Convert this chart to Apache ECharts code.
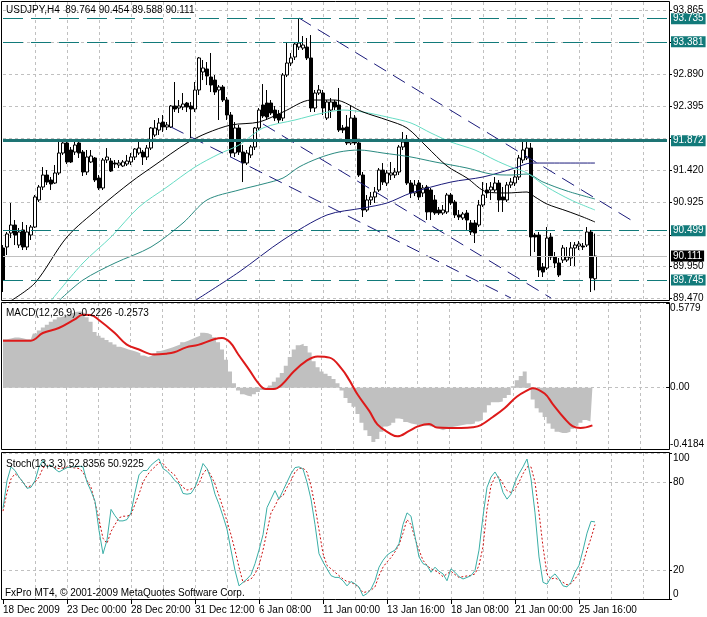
<!DOCTYPE html>
<html><head><meta charset="utf-8">
<script src="https://cdn.jsdelivr.net/npm/echarts@6/dist/echarts.min.js"></script>
<style>html,body{margin:0;padding:0;background:#fff}#c{width:707px;height:617px}</style>
</head><body><div id="c"></div>
<script>
// ---------------- DATA ----------------
const symbolName = 'USDJPY,H4';
const dateLabels = ['18 Dec 2009','23 Dec 00:00','28 Dec 20:00','31 Dec 12:00','6 Jan 08:00','11 Jan 00:00','13 Jan 16:00','18 Jan 08:00','21 Jan 00:00','25 Jan 16:00'];

const open = [90.234,90.249,90.463,90.585,90.279,90.509,90.249,90.432,90.554,90.967,
91.165,91.348,91.272,91.226,91.379,91.684,91.837,91.730,91.699,91.837,
91.699,91.394,91.547,91.608,91.302,91.150,91.577,91.562,91.531,91.501,
91.486,91.516,91.547,91.623,91.684,91.699,91.623,91.760,91.959,92.035,
92.157,92.081,92.081,92.402,92.371,92.386,92.447,92.402,92.356,92.646,
92.921,92.967,92.844,92.798,92.646,92.692,92.493,92.264,91.684,92.066,
91.699,91.531,91.654,91.776,92.066,92.417,92.447,92.447,92.340,92.279,
92.218,92.875,93.058,93.150,93.302,93.287,93.302,93.135,92.371,92.600,
92.600,92.218,92.340,92.463,92.417,92.066,92.081,91.837,92.218,91.837,
91.348,90.814,90.967,91.013,91.119,91.424,91.226,91.348,91.348,91.394,
91.776,91.852,91.226,91.074,91.226,91.074,91.165,91.119,90.967,90.814,
90.768,90.784,91.043,90.936,90.738,90.692,90.768,90.616,90.616,90.585,
90.890,91.119,91.119,91.119,91.226,91.013,90.967,91.196,91.226,91.318,
91.577,91.608,91.760,90.432,90.432,89.944,89.928,90.402,90.096,90.005,
90.050,90.050,90.081,90.234,90.264,90.264,90.279,90.478,89.764];
const high = [90.279,90.478,90.921,90.661,90.539,90.631,90.585,90.585,91.043,91.196,
91.470,91.424,91.318,91.501,91.852,91.882,91.882,91.776,91.852,91.882,
91.730,91.730,91.730,91.623,91.348,91.608,91.760,91.608,91.577,91.577,
91.577,91.654,91.684,91.760,91.882,91.730,91.806,92.081,92.188,92.218,
92.264,92.157,92.417,92.768,92.493,92.600,92.463,92.463,92.768,93.150,
93.104,93.073,93.211,92.875,92.722,92.722,92.539,92.310,92.157,92.112,
91.806,91.730,91.806,92.081,92.371,92.737,92.646,92.493,92.402,92.340,
92.905,93.379,93.211,93.379,93.745,93.470,93.440,93.485,92.646,92.722,
92.646,92.493,92.524,92.493,92.677,92.112,92.264,92.402,92.264,91.882,
91.394,91.043,91.089,91.165,91.455,91.531,91.424,91.547,91.455,91.806,
92.005,91.959,91.272,91.272,91.272,91.196,91.196,91.150,91.043,90.860,
90.890,91.074,91.074,90.967,90.814,90.784,90.814,90.661,90.661,90.967,
91.241,91.226,91.241,91.318,91.272,91.165,91.241,91.302,91.424,91.654,
91.867,91.882,91.837,90.463,90.478,90.005,90.554,90.463,90.173,90.081,
90.279,90.249,90.325,90.325,90.340,90.310,90.554,90.509,90.454];
const low = [89.562,90.127,90.386,90.279,90.234,90.203,90.203,90.356,90.539,90.936,
91.119,91.196,91.119,91.211,91.348,91.654,91.516,91.531,91.654,91.608,
91.333,91.348,91.531,91.241,91.119,91.119,91.531,91.394,91.455,91.455,
91.470,91.486,91.501,91.577,91.654,91.501,91.577,91.730,91.928,91.959,
92.005,92.035,92.066,92.310,92.295,92.340,92.310,91.913,92.310,92.570,
92.798,92.722,92.615,92.570,92.188,92.463,92.188,91.623,91.623,91.654,
91.241,91.501,91.608,91.730,92.035,92.218,92.188,92.264,92.172,92.142,
92.172,92.844,93.012,93.104,93.257,93.257,93.104,92.310,92.310,92.570,
92.264,92.188,92.218,92.340,92.005,91.989,91.806,91.806,91.806,91.318,
90.707,90.784,90.890,90.921,91.089,91.196,91.180,91.272,91.302,91.348,
91.730,91.196,90.997,91.027,90.967,91.013,90.661,90.661,90.738,90.738,
90.738,90.753,90.890,90.692,90.661,90.661,90.509,90.432,90.310,90.554,
90.860,90.997,90.967,91.089,90.784,90.784,90.936,91.150,91.180,91.272,
91.531,91.577,90.096,90.173,89.791,89.791,89.898,90.050,89.928,89.791,
90.005,90.020,89.959,89.959,90.203,90.203,90.249,89.562,89.588];
const close = [89.745,90.448,90.585,90.432,90.478,90.249,90.478,90.554,91.013,91.165,
91.348,91.241,91.211,91.379,91.684,91.837,91.547,91.547,91.806,91.684,
91.394,91.623,91.638,91.272,91.150,91.577,91.623,91.409,91.516,91.531,
91.547,91.562,91.623,91.745,91.760,91.623,91.760,92.066,92.066,92.142,
92.081,92.112,92.402,92.356,92.402,92.432,92.386,92.356,92.646,93.135,
92.982,92.860,92.722,92.615,92.692,92.493,92.264,91.684,92.066,91.699,
91.531,91.684,91.776,92.066,92.340,92.249,92.234,92.295,92.218,92.188,
92.875,93.058,93.135,93.348,93.363,93.333,93.135,92.371,92.600,92.646,
92.371,92.463,92.463,92.386,92.035,92.035,91.837,92.218,91.837,91.348,
90.814,90.967,91.013,91.089,91.424,91.241,91.379,91.379,91.394,91.776,
91.852,91.226,91.074,91.196,91.013,91.150,90.784,90.784,90.768,90.768,
90.814,91.043,90.921,90.738,90.707,90.753,90.661,90.478,90.463,90.890,
91.043,91.074,91.165,91.226,90.967,90.967,91.196,91.241,91.318,91.608,
91.730,91.760,90.402,90.402,89.898,89.867,90.386,90.096,90.005,89.822,
90.234,90.096,90.234,90.279,90.295,90.249,90.478,89.776,90.111];

// moving averages: [bar index, price]
const maBlack = [[2,89.43],[8,89.70],[16,90.402],[24,90.844],[32,91.241],[38,91.501],[46,91.837],[51,91.989],[57,92.112],[64,92.157],[70,92.310],[77,92.493],[83,92.493],[90,92.310],[96,92.188],[101,92.066],[106,91.776],[111,91.486],[116,91.302],[121,91.089],[126,91.074],[131,91.089],[133,91.013],[136,90.905],[141,90.798],[145,90.707],[148,90.631]];
const maAqua = [[12,89.43],[20,90.005],[27,90.402],[34,90.860],[41,91.165],[48,91.470],[54,91.669],[59,91.806],[65,92.066],[73,92.188],[80,92.295],[85,92.340],[90,92.310],[96,92.234],[102,92.142],[107,91.989],[112,91.852],[118,91.730],[123,91.577],[127,91.470],[131,91.379],[136,91.165],[142,90.967],[148,90.814]];
const maTeal = [[14,89.43],[20,89.745],[28,90.005],[37,90.249],[45,90.616],[51,90.967],[59,91.119],[65,91.211],[70,91.302],[74,91.470],[79,91.608],[84,91.699],[89,91.730],[95,91.684],[102,91.623],[108,91.547],[116,91.455],[122,91.363],[127,91.348],[131,91.363],[135,91.241],[141,91.104],[148,90.982]];
const maNavy = [[48,89.43],[59,89.867],[70,90.356],[81,90.738],[90,90.844],[96,90.921],[102,91.074],[112,91.241],[120,91.318],[128,91.455],[132,91.531],[148,91.531]];

// channel lines (drawn objects): [bar index, price]
const channelUpper = [[74,93.745],[157,90.661]];
const channelMiddle = [[65,92.127],[137,89.470]];
const channelLower = [[42,92.081],[127,89.470]];

// horizontal levels
const levelsDashed = [93.735, 93.381, 90.499, 89.745];
const levelSolid = 91.872;
const bidPrice = 90.111;

// price axis
const mainGridValues = [93.865, 93.377, 92.890, 92.395, 91.905, 91.420, 90.925, 90.435, 89.950, 89.470];
const mainLabelValues = [93.865, 92.890, 92.395, 91.420, 90.925, 89.950, 89.470];

// MACD(12,26,9)
const macdMain = [0.33,0.33,0.335,0.343,0.343,0.338,0.33,0.33,0.37,0.39,
0.41,0.43,0.45,0.465,0.48,0.49,0.50,0.51,0.518,0.52,
0.51,0.48,0.45,0.38,0.355,0.34,0.325,0.31,0.295,0.28,
0.27,0.26,0.253,0.245,0.235,0.22,0.21,0.22,0.235,0.25,
0.258,0.265,0.275,0.285,0.295,0.31,0.32,0.333,0.345,0.355,
0.375,0.372,0.36,0.345,0.31,0.26,0.19,0.11,0.03,-0.02,
-0.045,-0.055,-0.06,-0.045,-0.03,-0.016,-0.005,0.015,0.04,0.07,
0.10,0.15,0.21,0.26,0.29,0.30,0.285,0.24,0.18,0.14,
0.11,0.095,0.08,0.06,0.03,-0.02,-0.07,-0.105,-0.13,-0.18,
-0.24,-0.29,-0.33,-0.37,-0.35,-0.30,-0.265,-0.255,-0.24,-0.21,
-0.215,-0.235,-0.245,-0.25,-0.255,-0.26,-0.26,-0.265,-0.27,-0.28,
-0.29,-0.28,-0.27,-0.265,-0.26,-0.255,-0.25,-0.25,-0.245,-0.23,
-0.22,-0.17,-0.12,-0.10,-0.10,-0.095,-0.07,-0.05,0.01,0.05,
0.08,0.11,0.03,-0.08,-0.14,-0.17,-0.20,-0.245,-0.28,-0.30,
-0.31,-0.31,-0.30,-0.28,-0.26,-0.24,-0.22,-0.23,-0.2226];
const macdSignal = [[0,0.321],[7,0.321],[10,0.373],[14,0.407],[18,0.466],[20,0.498],[22,0.496],[24,0.464],[28,0.375],[31,0.296],[34,0.262],[38,0.226],[41,0.232],[43,0.242],[46,0.275],[49,0.292],[53,0.330],[55,0.339],[57,0.31],[59,0.23],[62,0.115],[64,0.035],[66,-0.009],[68,-0.009],[70,0.02],[73,0.11],[76,0.18],[79,0.213],[82,0.205],[85,0.13],[87,0.05],[89,-0.045],[92,-0.16],[94,-0.25],[97,-0.31],[99,-0.332],[102,-0.295],[104,-0.266],[107,-0.248],[109,-0.272],[112,-0.275],[115,-0.275],[118,-0.27],[120,-0.255],[123,-0.2],[126,-0.139],[129,-0.062],[132,-0.014],[133,-0.003],[136,-0.04],[138,-0.11],[141,-0.21],[143,-0.262],[145,-0.275],[148,-0.2573]];
const macdLabelValues = [-0.4184, 0, 0.5779];

// Stochastic(13,3,3)
const stochMain = [62,81,90.5,88,83.5,80,75.8,76.5,81,90.5,
95,90.5,91.6,89,87,88.5,90,90.5,90.5,91,
90.5,80,74,67,47,31,40.4,61.4,57,53.5,
53.5,54.4,59,73,85,88,88,91.6,94,96,
89.3,87.5,84.6,81,78.8,72.3,71.8,72.3,76.5,84,
92.8,89.3,82.3,71.8,64.9,56.7,47.9,33.5,19.6,9,
11.4,13.7,16.7,24.2,33.5,44,62.6,68.4,74.2,68.4,
74.2,80,85.8,90,90.5,89,80,68.4,51,31,
25.4,20.7,16,14.8,14.8,12.5,9,12,10.4,8.2,
2.1,3.7,6.8,12.5,21.8,26.5,30,32,33.5,38,
51,59,56.7,42.8,28.8,24.2,23,18.3,21.8,19,
17.2,12.5,20.7,18.3,15.3,13.7,14.8,16,19.5,33.5,
56.7,76.5,83.5,87,82.3,73,68.4,71.8,80,85.8,
90.5,95.9,82.3,59,28.8,11.4,10.2,14.8,17.2,13.7,
9,8.3,11.4,18.3,23,33.5,45.1,53.2,52.8356];
const stochSignal = [60.2,73,82.3,85.8,83.5,80,76.5,77.6,80,83.5,
89.8,91.6,91.1,89.8,89.3,89.8,90.5,90,89.8,89.3,
87,81.1,76.5,66,54.4,41.6,38.1,46.2,51,55.6,
56.7,56.7,57.9,64.9,71.8,80,84.6,88.1,90.5,93.5,
92.8,89.3,87,84.6,80,76.5,74.6,75.3,76.5,78.8,
85.8,89.3,84.6,78.8,70.7,62.6,53.2,44,33.5,21.8,
11.4,12.5,13.7,17.2,23,33.5,46.2,59,63.7,69.5,
70.7,76.5,81.1,87,89.3,89.8,87,77.6,63.7,47.4,
31.2,23,20.7,18.3,16,13.7,12,11.4,10,7.7,
4.4,5,6,8.3,16,21.8,25.4,28.4,32.3,37,
45.1,54.4,51,41.6,33.5,26.5,23,20.7,19.5,17.7,
15.3,17.2,19,16.7,14.8,15.3,15.8,16.2,17.2,23,
35.8,61.4,77.6,83.5,83.5,78.8,74.2,73,75.3,80,
85.8,90.5,90.5,80,59,35.8,17.2,13.7,14.4,13,
11.4,9.7,10.6,13.7,17.7,24.2,33.5,41.6,50.9225];
const stochLabelValues = [0, 20, 80, 100];

// ---------------- CHART ----------------
const FONT = '"Liberation Sans", Arial, sans-serif';
const SLOTS = 167;              // visible bar slots incl. right shift
const cats = Array.from({length: SLOTS}, (_, i) => String(i));
const last = open.length - 1;
const gridLine = {color: '#C0C0C0', type: [3, 3], width: 1};
const TEAL = '#127a7a';

function xAx(g, withLabels) {
  const ax = {
    type: 'category', gridIndex: g, data: cats, boundaryGap: false,
    axisLine: {show: false},
    axisTick: {show: false},
    axisLabel: {show: false},
    splitLine: {show: true, interval: (i) => i > 0 && i % 8 === 0, lineStyle: gridLine}
  };
  if (withLabels) {
    const show = (i) => i % 16 === 0 && (i / 16) < dateLabels.length;
    ax.axisTick = {show: true, interval: show, length: 5, lineStyle: {color: '#000'}};
    ax.axisLabel = {show: true, interval: show, formatter: (v, i) => dateLabels[i / 16] || '',
      align: 'left', margin: 6, fontSize: 10, color: '#000', fontFamily: FONT};
  }
  return ax;
}
function yAx(g, min, max, ticks, labels, fmt) {
  return {
    type: 'value', gridIndex: g, position: 'right', offset: 2, min: min, max: max,
    axisLine: {show: false},
    axisTick: {show: true, customValues: ticks, length: 3, lineStyle: {color: '#000'}},
    axisLabel: {customValues: labels, formatter: fmt, margin: 4, fontSize: 10, color: '#000', fontFamily: FONT,
      verticalAlignMinLabel: g === 0 ? 'middle' : 'bottom', verticalAlignMaxLabel: g === 0 ? 'middle' : 'top'},
    splitLine: {show: true, lineStyle: gridLine}
  };
}
const levelLabel = (bg) => ({show: true, position: 'end', distance: 4, color: '#fff', backgroundColor: bg,
  padding: [1, 2, 0, 2], fontSize: 10, fontFamily: FONT, formatter: '{b}'});

const markData = levelsDashed.map(v => ({name: v.toFixed(3), yAxis: v, lineStyle: {color: TEAL, width: 1, type: [20, 8]}, label: levelLabel(TEAL)}));
markData.push({name: levelSolid.toFixed(3), yAxis: levelSolid, lineStyle: {color: '#1e7474', width: 3, type: 'solid'}, label: levelLabel(TEAL)});
markData.push({name: bidPrice.toFixed(3), yAxis: bidPrice, lineStyle: {color: '#C0C0C0', width: 1, type: 'solid'}, label: levelLabel('#000')});

function lineS(data, color, xi, yi, extra) {
  return Object.assign({type: 'line', data: data, xAxisIndex: xi, yAxisIndex: yi, showSymbol: false, symbol: 'none',
    smooth: 0.3, lineStyle: {color: color, width: 1}, z: 4, silent: true, animation: false}, extra || {});
}

const option = {
  animation: false,
  textStyle: {fontFamily: FONT},
  grid: [
    {left: 3, top: 2, width: 664, height: 298},
    {left: 3, top: 303, width: 664, height: 146},
    {left: 3, top: 453, width: 664, height: 146}
  ],
  xAxis: [xAx(0, false), xAx(1, false), xAx(2, true)],
  yAxis: [
    yAx(0, 89.440, 93.9896, mainGridValues, mainLabelValues, v => v.toFixed(3)),
    yAx(1, -0.4184, 0.5779, macdLabelValues, macdLabelValues, v => v === 0 ? '0.00' : v.toFixed(4)),
    yAx(2, 0, 100, stochLabelValues, stochLabelValues, v => String(v))
  ],
  series: [
    lineS(maNavy, '#1a1a7a', 0, 0),
    lineS(maTeal, '#2a8a80', 0, 0),
    lineS(maAqua, '#66dcc4', 0, 0),
    lineS(maBlack, '#000000', 0, 0),
    lineS(channelUpper, '#1a1a7a', 0, 0, {smooth: false, lineStyle: {color: '#1a1a7a', width: 1, type: [14, 8]}}),
    lineS(channelMiddle, '#1a1a7a', 0, 0, {smooth: false, lineStyle: {color: '#1a1a7a', width: 1, type: [14, 8]}}),
    lineS(channelLower, '#1a1a7a', 0, 0, {smooth: false, lineStyle: {color: '#1a1a7a', width: 1, type: [14, 8]}}),
    {
      type: 'candlestick', xAxisIndex: 0, yAxisIndex: 0, barWidth: 3, z: 3, silent: true,
      data: open.map((o, i) => [o, close[i], low[i], high[i]]),
      itemStyle: {color: '#ffffff', color0: '#000000', borderColor: '#000000', borderColor0: '#000000', borderWidth: 1},
      markLine: {silent: true, symbol: ['none', 'none'], animation: false, precision: 3, data: markData}
    },
    // MACD main drawn as a stepped filled histogram
    lineS(macdMain, '#C0C0C0', 1, 1, {smooth: false, step: 'middle', z: 2,
      lineStyle: {color: '#C0C0C0', width: 0}, areaStyle: {color: '#C0C0C0', opacity: 1, origin: 0}}),
    lineS(macdSignal, '#dd1a1a', 1, 1, {smooth: 0.4, lineStyle: {color: '#dd1a1a', width: 2}}),
    lineS(stochSignal, '#cc1111', 2, 2, {smooth: false, lineStyle: {color: '#cc1111', width: 1, type: [2, 2]}}),
    lineS(stochMain, '#3aaea6', 2, 2, {smooth: false})
  ],
  graphic: [
    {type: 'rect', shape: {x: 1.5, y: 1.5, width: 668, height: 299}, style: {fill: 'rgba(0,0,0,0)', stroke: '#000', lineWidth: 1}, z: 50, silent: true},
    {type: 'rect', shape: {x: 1.5, y: 302.5, width: 668, height: 147}, style: {fill: 'rgba(0,0,0,0)', stroke: '#000', lineWidth: 1}, z: 50, silent: true},
    {type: 'rect', shape: {x: 1.5, y: 452.5, width: 668, height: 147}, style: {fill: 'rgba(0,0,0,0)', stroke: '#000', lineWidth: 1}, z: 50, silent: true},
    {type: 'text', x: 6, y: 5, z: 60, silent: true, style: {text: symbolName + '  ' + open[last].toFixed(3) + ' ' + high[last].toFixed(3) + ' ' + low[last].toFixed(3) + ' ' + close[last].toFixed(3), fill: '#000', font: '10px ' + FONT, verticalAlign: 'top'}},
    {type: 'text', x: 6, y: 308, z: 60, silent: true, style: {text: 'MACD(12,26,9) ' + macdMain[last].toFixed(4) + ' ' + macdSignal[macdSignal.length - 1][1].toFixed(4), fill: '#000', font: '10px ' + FONT, verticalAlign: 'top'}},
    {type: 'text', x: 6, y: 459, z: 60, silent: true, style: {text: 'Stoch(13,3,3) ' + stochMain[last].toFixed(4) + ' ' + stochSignal[last].toFixed(4), fill: '#000', font: '10px ' + FONT, verticalAlign: 'top'}},
    {type: 'text', x: 5, y: 588, z: 60, silent: true, style: {text: 'FxPro MT4, \u00a9 2001-2009 MetaQuotes Software Corp.', fill: '#000', font: '10px ' + FONT, verticalAlign: 'top'}}
  ]
};
const chart = echarts.init(document.getElementById('c'), null, {renderer: 'canvas'});
chart.setOption(option);
</script></body></html>
